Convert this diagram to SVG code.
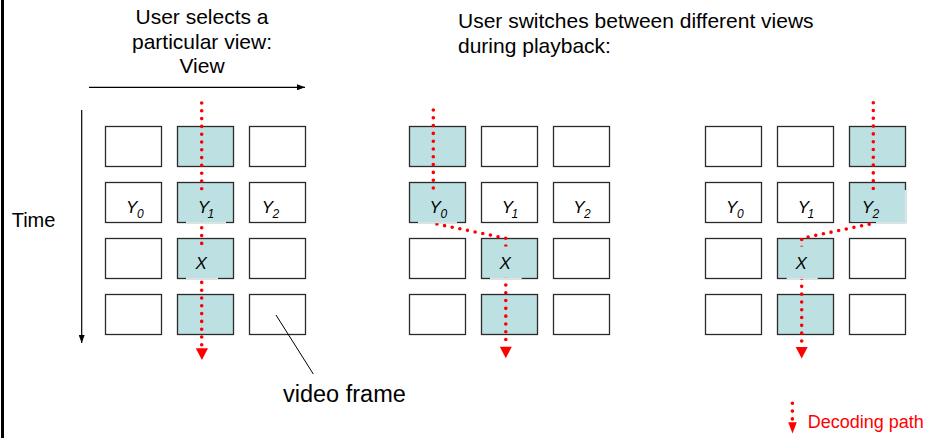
<svg xmlns="http://www.w3.org/2000/svg" width="929" height="438" viewBox="0 0 929 438">
<defs>
<style>
.t{font-family:"Liberation Sans",Arial,sans-serif;fill:#000}
.h{font-size:21px}
.b{fill:#fff;stroke:#2b2b2b;stroke-width:1.3}
.s{fill:#bde0e3;stroke:#2b2b2b;stroke-width:1.3}
.tb{fill:#bde0e3;stroke:none}
.lbl{font-family:"Liberation Sans",Arial,sans-serif;font-style:italic;font-size:17px;fill:#000}
.sub{font-size:12px}
.gap{stroke:#d3e6e8;stroke-width:1.6;fill:none}
.dots{fill:none;stroke:#ff0000;stroke-width:3.6;stroke-linecap:round;stroke-dasharray:0 7.8}
.ah{fill:#ff0000}
.ax{stroke:#000;stroke-width:1.2;fill:none}
</style>
<marker id="arr" markerWidth="8" markerHeight="6" refX="8" refY="3" orient="auto" markerUnits="userSpaceOnUse">
<path d="M0,0 L8,3 L0,6 Z" fill="#000"/>
</marker>
</defs>
<rect width="929" height="438" fill="#fff"/>
<line x1="2.5" y1="0" x2="2.5" y2="438" stroke="#000" stroke-width="3"/>

<g id="title-left">
<text class="t h" x="202" y="24.3" text-anchor="middle">User selects a</text>
<text class="t h" x="202" y="49" text-anchor="middle">particular view:</text>
<text class="t h" x="202" y="73.3" text-anchor="middle">View</text>
</g>
<g id="title-right">
<text class="t h" x="458" y="28.3">User switches between different views</text>
<text class="t h" x="458" y="53.3">during playback:</text>
</g>
<g id="time-label"><text class="t" x="11.7" y="226.5" font-size="20">Time</text></g>

<g id="axes">
<line class="ax" x1="89" y1="87.3" x2="305" y2="87.3" marker-end="url(#arr)"/>
<line class="ax" x1="81.7" y1="110" x2="81.7" y2="343" marker-end="url(#arr)"/>
</g>

<!-- Group 1 -->
<g id="g1">
<g id="g1-r1c1"><rect class="b" x="105.5" y="126.5" width="56" height="40"/></g>
<g id="g1-r1c2"><rect class="s" x="177.5" y="126.5" width="56" height="40"/></g>
<g id="g1-r1c3"><rect class="b" x="249.5" y="126.5" width="56" height="40"/></g>
<g id="g1-r2c1"><rect class="b" x="105.5" y="182.5" width="56" height="40"/><text class="lbl" x="126" y="213">Y<tspan class="sub" x="137" y="218">0</tspan></text></g>
<g id="g1-r2c2"><rect class="s" x="177.5" y="182.5" width="56" height="40"/></g>
<g id="g1-r2c3"><rect class="b" x="249.5" y="182.5" width="56" height="40"/><text class="lbl" x="261.7" y="213">Y<tspan class="sub" x="272.5" y="218">2</tspan></text></g>
<g id="g1-r3c1"><rect class="b" x="105.5" y="238.5" width="56" height="40"/></g>
<g id="g1-r3c2"><rect class="s" x="177.5" y="238.5" width="56" height="40"/></g>
<g id="g1-r3c3"><rect class="b" x="249.5" y="238.5" width="56" height="40"/></g>
<g id="g1-r4c1"><rect class="b" x="105.5" y="294.5" width="56" height="40"/></g>
<g id="g1-r4c2"><rect class="s" x="177.5" y="294.5" width="56" height="40"/></g>
<g id="g1-r4c3"><rect class="b" x="249.5" y="294.5" width="56" height="40"/></g>
</g>

<!-- Group 2 -->
<g id="g2">
<g id="g2-r1c1"><rect class="s" x="409.5" y="126.5" width="56" height="40"/></g>
<g id="g2-r1c2"><rect class="b" x="481.5" y="126.5" width="56" height="40"/></g>
<g id="g2-r1c3"><rect class="b" x="553.5" y="126.5" width="56" height="40"/></g>
<g id="g2-r2c1"><rect class="s" x="409.5" y="182.5" width="56" height="40"/></g>
<g id="g2-r2c2"><rect class="b" x="481.5" y="182.5" width="56" height="40"/><text class="lbl" x="501.7" y="213">Y<tspan class="sub" x="511.5" y="218">1</tspan></text></g>
<g id="g2-r2c3"><rect class="b" x="553.5" y="182.5" width="56" height="40"/><text class="lbl" x="573.3" y="213">Y<tspan class="sub" x="584" y="218">2</tspan></text></g>
<g id="g2-r3c1"><rect class="b" x="409.5" y="238.5" width="56" height="40"/></g>
<g id="g2-r3c2"><rect class="s" x="481.5" y="238.5" width="56" height="40"/></g>
<g id="g2-r3c3"><rect class="b" x="553.5" y="238.5" width="56" height="40"/></g>
<g id="g2-r4c1"><rect class="b" x="409.5" y="294.5" width="56" height="40"/></g>
<g id="g2-r4c2"><rect class="s" x="481.5" y="294.5" width="56" height="40"/></g>
<g id="g2-r4c3"><rect class="b" x="553.5" y="294.5" width="56" height="40"/></g>
</g>

<!-- Group 3 -->
<g id="g3">
<g id="g3-r1c1"><rect class="b" x="705.5" y="126.5" width="56" height="40"/></g>
<g id="g3-r1c2"><rect class="b" x="777.5" y="126.5" width="56" height="40"/></g>
<g id="g3-r1c3"><rect class="s" x="849.5" y="126.5" width="56" height="40"/></g>
<g id="g3-r2c1"><rect class="b" x="705.5" y="182.5" width="56" height="40"/><text class="lbl" x="726" y="213">Y<tspan class="sub" x="737" y="218">0</tspan></text></g>
<g id="g3-r2c2"><rect class="b" x="777.5" y="182.5" width="56" height="40"/><text class="lbl" x="797.7" y="213">Y<tspan class="sub" x="807.5" y="218">1</tspan></text></g>
<g id="g3-r2c3"><rect class="s" x="849.5" y="182.5" width="56" height="40"/></g>
<g id="g3-r3c1"><rect class="b" x="705.5" y="238.5" width="56" height="40"/></g>
<g id="g3-r3c2"><rect class="s" x="777.5" y="238.5" width="56" height="40"/></g>
<g id="g3-r3c3"><rect class="b" x="849.5" y="238.5" width="56" height="40"/></g>
<g id="g3-r4c1"><rect class="b" x="705.5" y="294.5" width="56" height="40"/></g>
<g id="g3-r4c2"><rect class="s" x="777.5" y="294.5" width="56" height="40"/></g>
<g id="g3-r4c3"><rect class="b" x="849.5" y="294.5" width="56" height="40"/></g>
</g>

<g id="video-frame-label">
<text class="t" x="283" y="401.7" font-size="23.5">video frame</text>
</g>

<g id="connectors">
<line x1="276" y1="315" x2="313.3" y2="374" stroke="#000" stroke-width="1"/>
<polyline class="dots" points="201.7,103 201.7,347"/>
<path class="ah" d="M195.8,348.3 L208,348.3 L201.9,360 Z"/>
<polyline class="dots" points="433.3,110 433.3,223.3 505.8,238.3 505.8,345"/>
<path class="ah" d="M499.8,346.7 L511.8,346.7 L505.8,358.3 Z"/>
<polyline class="dots" points="873.3,102.7 873.3,223.3 801.7,238.3 801.7,345"/>
<path class="ah" d="M795.7,347 L807.7,347 L801.7,358.5 Z"/>
</g>

<!-- labels on shaded frames (text boxes sit over the decoding path) -->
<g id="g1-r2c2-label"><rect class="tb" x="186" y="190.5" width="40" height="31.3"/><line class="gap" x1="186" y1="222.5" x2="226" y2="222.5"/><text class="lbl" x="197.7" y="213">Y<tspan class="sub" x="207.5" y="218">1</tspan></text></g>
<g id="g1-r3c2-label"><rect class="tb" x="186" y="246.5" width="32" height="31.3"/><line class="gap" x1="186" y1="278.5" x2="218" y2="278.5"/><text class="lbl" x="195.5" y="268.5">X</text></g>
<g id="g2-r2c1-label"><rect class="tb" x="418" y="190.5" width="39" height="31.3"/><line class="gap" x1="418" y1="222.5" x2="457" y2="222.5"/><text class="lbl" x="429.5" y="213">Y<tspan class="sub" x="440.5" y="218">0</tspan></text></g>
<g id="g2-r3c2-label"><rect class="tb" x="490" y="246.5" width="31.7" height="31.3"/><line class="gap" x1="490" y1="278.5" x2="521.7" y2="278.5"/><text class="lbl" x="499.5" y="268.5">X</text></g>
<g id="g3-r2c3-label"><rect class="tb" x="852" y="190.5" width="53" height="31.3"/><polyline class="gap" points="905.5,190 905.5,222.5 876,222.5"/><text class="lbl" x="861.7" y="213">Y<tspan class="sub" x="872.5" y="218">2</tspan></text></g>
<g id="g3-r3c2-label"><rect class="tb" x="786.7" y="246.5" width="31" height="31.3"/><line class="gap" x1="786.7" y1="278.5" x2="817.7" y2="278.5"/><text class="lbl" x="795.5" y="268.5">X</text></g>

<g id="legend">
<polyline class="dots" points="792.4,403.3 792.4,419"/>
<path class="ah" d="M788.2,422.3 L796.8,422.3 L792.5,433.5 Z"/>
<text x="807.7" y="428" font-family="Liberation Sans,Arial,sans-serif" font-size="18" fill="#ff0000">Decoding path</text>
</g>
</svg>
